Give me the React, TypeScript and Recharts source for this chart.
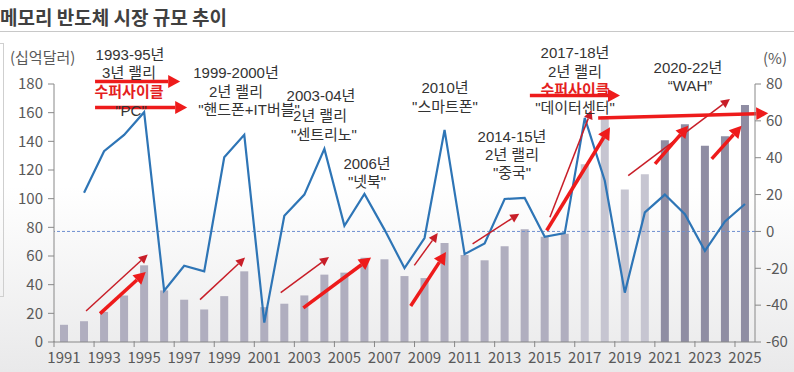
import React from "react";
import {
  ComposedChart,
  Bar,
  Line,
  XAxis,
  YAxis,
  Cell,
  ReferenceLine,
} from "recharts";

document.body.style.margin = "0";

const years = [
  1991, 1992, 1993, 1994, 1995, 1996, 1997, 1998, 1999, 2000,
  2001, 2002, 2003, 2004, 2005, 2006, 2007, 2008, 2009, 2010,
  2011, 2012, 2013, 2014, 2015, 2016, 2017, 2018, 2019, 2020,
  2021, 2022, 2023, 2024, 2025,
];

// 시장 규모 (십억달러)
const marketSize = [
  12, 14.5, 21, 32.5, 53.5, 36, 29.5, 22.7, 32, 49.3,
  24.3, 26.7, 32.5, 47, 48.4, 58.8, 57.7, 46, 44.6, 69,
  60.7, 57, 66.8, 78.6, 73.5, 75.5, 124, 157.6, 106.4, 117,
  140.8, 152, 136.9, 143.6, 165.3,
];

// 성장률 (%)
const growth = [
  null, 21, 43.5, 52.4, 64.7, -32.2, -18.6, -21.7, 40.2, 52.4,
  -49.5, 8.5, 20, 44.8, 3.1, 20.3, 1, -19.9, -3.6, 55.1,
  -12.3, -6.5, 17.6, 18.2, -2.9, -0.9, 61.6, 27.5, -33.2, 10.3,
  20, 9.4, -10.5, 5.4, 14.9,
];

const yearTicks = [
  1991, 1993, 1995, 1997, 1999, 2001, 2003, 2005, 2007, 2009,
  2011, 2013, 2015, 2017, 2019, 2021, 2023, 2025,
];
const leftTicks = [0, 20, 40, 60, 80, 100, 120, 140, 160, 180];
const rightTicks = [-60, -40, -20, 0, 20, 40, 60, 80];

// 화살표: [시작연도, 시작%, 끝연도, 끝%, 굵기]
const arrows: [number, number, number, number, boolean][] = [
  [1992.55, 81.4, 1996.8, 81.4, true],
  [1992.55, 67.3, 1997.15, 67.3, true],
  [1992.1, -43.2, 1995.18, -12.5, false],
  [1992.8, -44.6, 1995.08, -22.0, true],
  [1997.79, -37.0, 2000.04, -14.2, false],
  [2001.82, -33.2, 2004.23, -13.9, false],
  [2002.95, -41.5, 2006.33, -14.2, true],
  [2008.49, -18.4, 2009.66, -0.9, false],
  [2008.31, -40.5, 2010.07, -11.2, true],
  [2011.4, -6.7, 2013.73, 9.6, false],
  [2015.26, 7.7, 2017.34, 65.9, false],
  [2015.1, 0.5, 2018.26, 56.5, true],
  [2014.26, 73.7, 2018.76, 73.7, true],
  [2019.17, 30.3, 2024.25, 71.9, false],
  [2020.51, 36.7, 2022.17, 57.4, true],
  [2023.34, 39.4, 2024.83, 57.4, true],
  [2017.67, 61.6, 2026.16, 64.1, true],
];

const notes: { x: number; y: number; text: string; red?: boolean }[] = [
  { x: 130, y: 55, text: "1993-95년" },
  { x: 129, y: 73, text: "3년 랠리" },
  { x: 129, y: 92, text: "수퍼사이클", red: true },
  { x: 131, y: 111, text: "\"PC\"" },
  { x: 236, y: 73, text: "1999-2000년" },
  { x: 236, y: 92, text: "2년 랠리" },
  { x: 249, y: 110, text: "\"핸드폰+IT버블\"" },
  { x: 321, y: 96, text: "2003-04년" },
  { x: 320, y: 116, text: "2년 랠리" },
  { x: 324, y: 135, text: "\"센트리노\"" },
  { x: 367, y: 164, text: "2006년" },
  { x: 367, y: 182, text: "\"넷북\"" },
  { x: 445, y: 88, text: "2010년" },
  { x: 445, y: 107, text: "\"스마트폰\"" },
  { x: 512, y: 137, text: "2014-15년" },
  { x: 512, y: 155, text: "2년 랠리" },
  { x: 512, y: 173, text: "\"중국\"" },
  { x: 575, y: 53, text: "2017-18년" },
  { x: 575, y: 72, text: "2년 랠리" },
  { x: 575, y: 90, text: "수퍼사이클", red: true },
  { x: 575, y: 108, text: "\"데이터센터\"" },
  { x: 688, y: 68, text: "2020-22년" },
  { x: 690, y: 86, text: "“WAH”" },
];

const data = years.map((year, i) => ({
  year,
  size: marketSize[i],
  growth: growth[i],
}));

const font = "'Noto Sans CJK KR', 'Noto Sans', sans-serif";
const noteFont = "'Liberation Sans', 'Noto Sans CJK KR', sans-serif";

function barColor(year: number) {
  if (year >= 2021) return "#8f8da3";
  if (year >= 2017) return "#c6c5d1";
  return "#b0aebf";
}

function makeArrow(thick: boolean) {
  return (props: any) => {
    const { x1, y1, x2, y2 } = props;
    if ([x1, y1, x2, y2].some((v) => v == null || isNaN(v))) return <g />;
    const color = thick ? "#ee1b1b" : "#c81e28";
    const w = thick ? 3.5 : 1.5;
    const hl = thick ? 12 : 9;
    const hw = thick ? 6.5 : 4.5;
    const dx = x2 - x1;
    const dy = y2 - y1;
    const len = Math.sqrt(dx * dx + dy * dy) || 1;
    const ux = dx / len;
    const uy = dy / len;
    const bx = x2 - ux * hl;
    const by = y2 - uy * hl;
    const pts = `${x2},${y2} ${bx - uy * hw},${by + ux * hw} ${bx + uy * hw},${by - ux * hw}`;
    return (
      <g>
        <line x1={x1} y1={y1} x2={bx} y2={by} stroke={color} strokeWidth={w} />
        <polygon points={pts} fill={color} />
      </g>
    );
  };
}

function YearTick(props: any) {
  const { x, y, payload } = props;
  return (
    <g>
      <line x1={x - 10} y1={y - 1} x2={x - 10} y2={y + 5} stroke="#888" />
      <text
        x={x}
        y={y + 21}
        textAnchor="middle"
        fill="#595959"
        fontSize={15}
        fontFamily={font}
      >
        {payload.value}
      </text>
    </g>
  );
}

export default function App() {
  return (
    <div
      style={{
        position: "relative",
        width: 794,
        height: 372,
        fontFamily: font,
        background: "linear-gradient(to bottom, #ffffff 50%, #e9e9ea 100%)",
        overflow: "hidden",
      }}
    >
      <div
        style={{
          position: "absolute",
          left: 0,
          top: 3,
          fontSize: 19,
          fontWeight: 700,
          color: "#404040",
          whiteSpace: "nowrap",
        }}
      >
        메모리 반도체 시장 규모 추이
      </div>
      <div
        style={{
          position: "absolute",
          left: 0,
          top: 31,
          width: 794,
          height: 1,
          background: "#c8c8c8",
        }}
      />
      <div
        style={{
          position: "absolute",
          left: -2,
          top: 43,
          width: 4,
          height: 252,
          border: "1px solid #cfcfcf",
        }}
      />
      <ComposedChart
        width={794}
        height={372}
        data={data}
        margin={{ top: 84, right: 0, bottom: 0, left: 0 }}
      >
        <XAxis
          dataKey="year"
          type="number"
          domain={[1990.5, 2025.5]}
          allowDataOverflow
          ticks={yearTicks}
          interval={0}
          height={30}
          tickSize={0}
          tickMargin={0}
          tickLine={false}
          axisLine={{ stroke: "#888" }}
          tick={<YearTick />}
        />
        <YAxis
          yAxisId="left"
          width={54}
          domain={[0, 180]}
          ticks={leftTicks}
          tickSize={6}
          tickMargin={5}
          axisLine={{ stroke: "#888" }}
          tickLine={{ stroke: "#888" }}
          tick={{ fill: "#595959", fontSize: 15, fontFamily: font }}
        />
        <YAxis
          yAxisId="right"
          orientation="right"
          width={39}
          domain={[-60, 80]}
          ticks={rightTicks}
          tickSize={6}
          tickMargin={5}
          axisLine={{ stroke: "#888" }}
          tickLine={{ stroke: "#888" }}
          tick={{ fill: "#595959", fontSize: 15, fontFamily: font, textAnchor: "start" }}
        />
        <Bar yAxisId="left" dataKey="size" barSize={8} isAnimationActive={false}>
          {data.map((d) => (
            <Cell key={d.year} fill={barColor(d.year)} />
          ))}
        </Bar>
        <ReferenceLine
          yAxisId="right"
          y={0}
          stroke="#6f8fd0"
          strokeDasharray="3 2"
          strokeWidth={1}
        />
        <Line
          yAxisId="right"
          dataKey="growth"
          stroke="#2e75b6"
          strokeWidth={2.2}
          dot={false}
          connectNulls
          isAnimationActive={false}
        />
        {arrows.map(([xa, ya, xb, yb, thick], i) => (
          <ReferenceLine
            key={i}
            yAxisId="right"
            ifOverflow="visible"
            segment={[
              { x: xa, y: ya },
              { x: xb, y: yb },
            ]}
            shape={makeArrow(thick)}
          />
        ))}
      </ComposedChart>
      <div
        style={{
          position: "absolute",
          left: 10,
          top: 46,
          fontSize: 15,
          color: "#595959",
        }}
      >
        (십억달러)
      </div>
      <div
        style={{
          position: "absolute",
          left: 763,
          top: 47,
          fontSize: 15,
          color: "#595959",
        }}
      >
        (%)
      </div>
      {notes.map((n, i) => (
        <div
          key={i}
          style={{
            position: "absolute",
            left: n.x,
            top: n.y,
            transform: "translate(-50%, -50%)",
            fontFamily: noteFont,
            fontSize: 15,
            lineHeight: "16px",
            whiteSpace: "nowrap",
            color: n.red ? "#e41e1e" : "#333",
            fontWeight: n.red ? 700 : 400,
          }}
        >
          {n.text}
        </div>
      ))}
    </div>
  );
}
